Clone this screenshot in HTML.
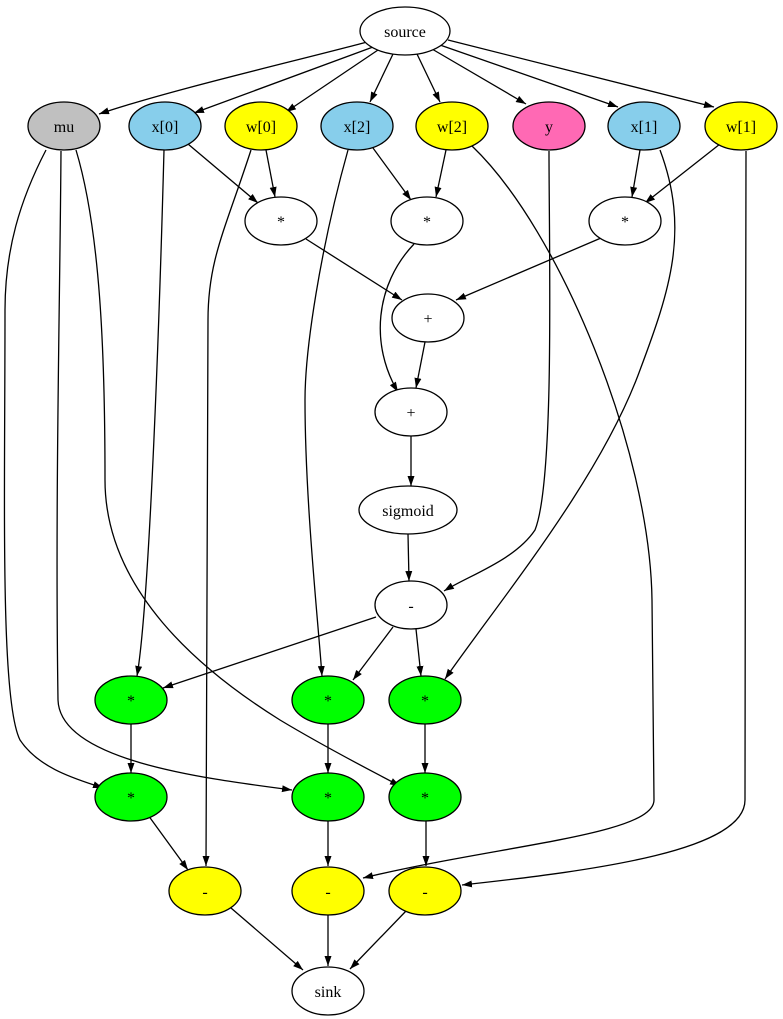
<!DOCTYPE html>
<html><head><meta charset="utf-8"><style>html,body{margin:0;padding:0;background:#fff}svg{display:block}</style></head>
<body>
<svg width="783" height="1019" viewBox="0 0 783 1019" xmlns="http://www.w3.org/2000/svg" font-family="Liberation Serif, serif" font-size="16">
<defs>
<marker id="a" markerWidth="11" markerHeight="8" refX="10" refY="3.5" orient="auto" markerUnits="userSpaceOnUse">
<path d="M0,0 L10,3.5 L0,7 z" fill="#000"/>
</marker>
</defs>
<g fill="none" stroke="#000" stroke-width="1.3" marker-end="url(#a)">
<path d="M367,42 C300,60 170,90 99,114"/>
<path d="M373,47 L194,113"/>
<path d="M378,50 L286,112"/>
<path d="M393,54 L370,102"/>
<path d="M417,54 L440,102"/>
<path d="M432,49 L526,104"/>
<path d="M440,45 L618,107"/>
<path d="M448,40 L714,107"/>
<path d="M188,144 L258,203"/>
<path d="M266,150 L275,197"/>
<path d="M373,148 L411,200"/>
<path d="M446,150 L436,197"/>
<path d="M640,150 L632,197"/>
<path d="M720,144 L645,203"/>
<path d="M306,239 L402,300"/>
<path d="M601,238 L456,300"/>
<path d="M414,244 C375,285 370,345 398,392"/>
<path d="M425,342 L416,388"/>
<path d="M411,436 L411,486"/>
<path d="M408,534 L409,581"/>
<path d="M549,151 C549,250 555,480 535,530 C515,560 470,575 444,591"/>
<path d="M376,617 L163,688"/>
<path d="M393,627 L353,680"/>
<path d="M416,629 L421,676"/>
<path d="M164,150 C160,300 150,600 137,676"/>
<path d="M348,150 C320,250 305,350 305,400 C305,500 318,620 322,676"/>
<path d="M660,150 C690,230 670,290 640,370 C600,480 500,600 445,679"/>
<path d="M131,724 L131,773"/>
<path d="M328,724 L328,773"/>
<path d="M425,724 L425,773"/>
<path d="M46,150 C20,200 5,250 5,310 C5,500 0,700 20,740 C40,770 80,780 103,788"/>
<path d="M61,151 C60,300 55,500 58,700 C60,760 200,778 292,790"/>
<path d="M76,150 C100,230 105,350 105,480 C105,590 200,670 280,720 C330,750 370,770 400,786"/>
<path d="M251,150 C225,230 208,260 208,320 L206,866"/>
<path d="M472,146 C560,230 650,450 652,600 L654,800 C654,835 500,845 363,878"/>
<path d="M746,151 C746,300 745,600 745,800 C745,850 600,870 462,885"/>
<path d="M148,815 L188,870"/>
<path d="M328,821 L328,866"/>
<path d="M426,821 L426,866"/>
<path d="M231,908 L303,970"/>
<path d="M328,915 L328,966"/>
<path d="M406,911 L350,969"/>
</g>
<g stroke="#000" stroke-width="1.3">
<ellipse cx="405" cy="31" rx="45" ry="24" fill="#fff"/>
<ellipse cx="64" cy="126" rx="36" ry="24" fill="#c0c0c0"/>
<ellipse cx="165" cy="126" rx="36" ry="24" fill="#87ceeb"/>
<ellipse cx="261" cy="126" rx="36" ry="24" fill="#ffff00"/>
<ellipse cx="357" cy="126" rx="36" ry="24" fill="#87ceeb"/>
<ellipse cx="452" cy="126" rx="36" ry="24" fill="#ffff00"/>
<ellipse cx="549" cy="126" rx="36" ry="24" fill="#ff69b4"/>
<ellipse cx="644" cy="126" rx="36" ry="24" fill="#87ceeb"/>
<ellipse cx="741" cy="126" rx="36" ry="24" fill="#ffff00"/>
<ellipse cx="281" cy="221" rx="36" ry="24" fill="#fff"/>
<ellipse cx="427" cy="221" rx="36" ry="24" fill="#fff"/>
<ellipse cx="625" cy="221" rx="36" ry="24" fill="#fff"/>
<ellipse cx="428" cy="318" rx="36" ry="24" fill="#fff"/>
<ellipse cx="411" cy="412" rx="36" ry="24" fill="#fff"/>
<ellipse cx="408" cy="510" rx="49" ry="24" fill="#fff"/>
<ellipse cx="411" cy="605" rx="36" ry="24" fill="#fff"/>
<ellipse cx="131" cy="700" rx="36" ry="24" fill="#00ff00"/>
<ellipse cx="328" cy="700" rx="36" ry="24" fill="#00ff00"/>
<ellipse cx="425" cy="700" rx="36" ry="24" fill="#00ff00"/>
<ellipse cx="131" cy="797" rx="36" ry="24" fill="#00ff00"/>
<ellipse cx="328" cy="797" rx="36" ry="24" fill="#00ff00"/>
<ellipse cx="425" cy="797" rx="36" ry="24" fill="#00ff00"/>
<ellipse cx="205" cy="891" rx="36" ry="24" fill="#ffff00"/>
<ellipse cx="328" cy="891" rx="36" ry="24" fill="#ffff00"/>
<ellipse cx="425" cy="891" rx="36" ry="24" fill="#ffff00"/>
<ellipse cx="328" cy="991" rx="36" ry="24" fill="#fff"/>
</g>
<g text-anchor="middle" fill="#000">
<text x="405" y="37">source</text>
<text x="64" y="132">mu</text>
<text x="165" y="132">x[0]</text>
<text x="261" y="132">w[0]</text>
<text x="357" y="132">x[2]</text>
<text x="452" y="132">w[2]</text>
<text x="549" y="132">y</text>
<text x="644" y="132">x[1]</text>
<text x="741" y="132">w[1]</text>
<text x="281" y="227">*</text>
<text x="427" y="227">*</text>
<text x="625" y="227">*</text>
<text x="428" y="324">+</text>
<text x="411" y="418">+</text>
<text x="408" y="516">sigmoid</text>
<text x="411" y="611">-</text>
<text x="131" y="706">*</text>
<text x="328" y="706">*</text>
<text x="425" y="706">*</text>
<text x="131" y="803">*</text>
<text x="328" y="803">*</text>
<text x="425" y="803">*</text>
<text x="205" y="897">-</text>
<text x="328" y="897">-</text>
<text x="425" y="897">-</text>
<text x="328" y="997">sink</text>
</g>
</svg>
</body></html>
